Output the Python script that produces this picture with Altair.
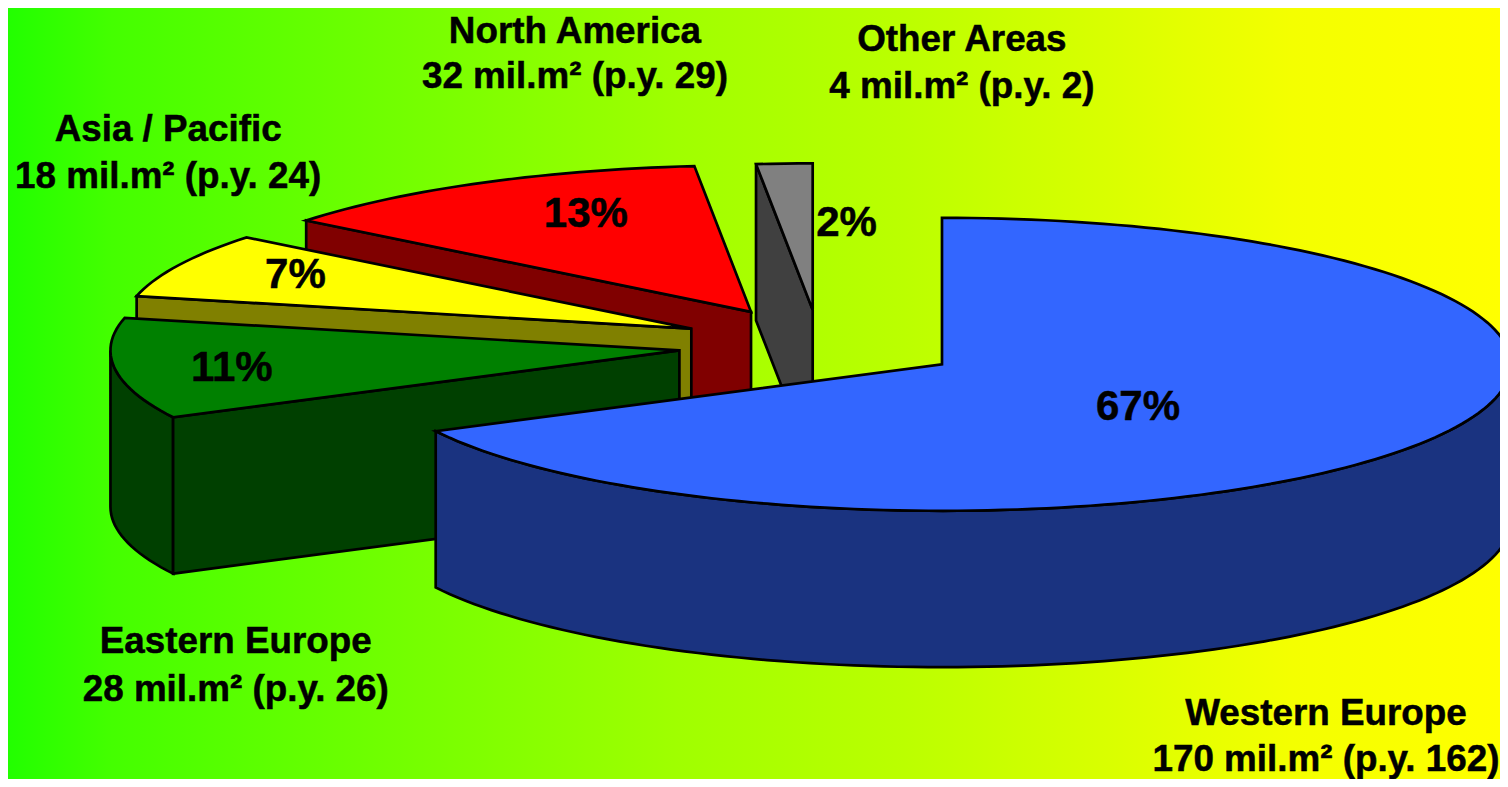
import math
import altair as alt
import pandas as pd

# ---- chart values ----
regions = ["Western Europe", "Eastern Europe", "Asia / Pacific", "North America", "Other Areas"]
areas = [170, 28, 18, 32, 4]
prior = [162, 26, 24, 29, 2]
percent_labels = ["67%", "11%", "7%", "13%", "2%"]

# ---- styling ----
top_colors = ["#3366FF", "#008000", "#FFFF00", "#FF0000", "#808080"]
side_colors = ["#1A3380", "#004000", "#808000", "#800000", "#404040"]
apex_x = [947, 683, 695, 755, 817]
apex_y = [368, 354, 332, 315, 313]
RX, RY, DEPTH = 572, 148, 158
label_xy = [(1333, 732), (237, 660), (169, 142), (578, 43), (967, 51)]
label_dy = [47, 48, 48, 46, 48]
pct_xy = [(1144, 424), (233, 385), (297, 291), (589, 229), (851, 238)]
LABEL_SIZE = 36.8
PCT_SIZE = 42
FONT = "Liberation Sans"

W, H = 1492, 771
x_scale = alt.Scale(domain=[8, 1508], nice=False, zero=False)
y_scale = alt.Scale(domain=[787, 8], nice=False, zero=False)

total = sum(areas)
starts, a = [], 0.0
for v in areas:
    starts.append(a)
    a += v / total * 360


def rim(i, a0, a1, drop=0):
    """Points along the slice's elliptical edge, angles clockwise from 12 o'clock."""
    n = max(2, int(abs(a1 - a0) / 1.5) + 1)
    pts = []
    for k in range(n + 1):
        t = math.radians(a0 + (a1 - a0) * k / n)
        pts.append((apex_x[i] + RX * math.sin(t), apex_y[i] - RY * math.cos(t) + drop))
    return pts


def poly(points, color):
    df = pd.DataFrame(points, columns=["x", "y"])
    df["o"] = range(len(df))
    return (
        alt.Chart(df)
        .mark_line(
            interpolate="linear-closed", filled=True, fill=color, stroke="black",
            strokeWidth=2.7, strokeJoin="miter", clip=True,
        )
        .encode(
            x=alt.X("x:Q", scale=x_scale, axis=None),
            y=alt.Y("y:Q", scale=y_scale, axis=None),
            order="o:Q",
        )
    )


layers = []
gradient = alt.LinearGradient(
    gradient="linear", x1=0, x2=1, y1=0, y2=0,
    stops=[
        alt.GradientStop(offset=0, color="#22FF00"),
        alt.GradientStop(offset=0.07, color="#44FF00"),
        alt.GradientStop(offset=0.45, color="#A0FF00"),
        alt.GradientStop(offset=0.6, color="#BBFF00"),
        alt.GradientStop(offset=0.86, color="#F4FF00"),
        alt.GradientStop(offset=1, color="#FFFF00"),
    ],
)
layers.append(
    alt.Chart(pd.DataFrame({"a": [0]}))
    .mark_rect(fill=gradient)
    .encode(x=alt.value(0), x2=alt.value(W), y=alt.value(0), y2=alt.value(H))
)

# back to front: grey, red, yellow, green, blue
for i in [4, 3, 2, 1, 0]:
    a0 = starts[i]
    a1 = a0 + areas[i] / total * 360
    apex = (apex_x[i], apex_y[i])
    low_apex = (apex_x[i], apex_y[i] + DEPTH)
    # outer curved wall, the part that faces the viewer
    lo, hi = max(a0, 90), min(a1, 270)
    if hi > lo:
        upper = rim(i, lo, hi)
        lower = rim(i, lo, hi, DEPTH)
        layers.append(poly(upper + lower[::-1], side_colors[i]))
    # straight cut wall along the slice's start radius
    if i != 0:
        p = rim(i, a0, a0)[0]
        layers.append(poly([apex, p, (p[0], p[1] + DEPTH), low_apex], side_colors[i]))
    # top face
    layers.append(poly([apex] + rim(i, a0, a1), top_colors[i]))

rows = []
for i, name in enumerate(regions):
    x, y = label_xy[i]
    rows.append({"x": x, "y": y, "t": name})
    rows.append({"x": x, "y": y + label_dy[i], "t": f"{areas[i]} mil.m² (p.y. {prior[i]})"})
layers.append(
    alt.Chart(pd.DataFrame(rows))
    .mark_text(font=FONT, fontWeight="bold", fontSize=LABEL_SIZE, color="black",
               stroke="black", strokeWidth=0.5, align="center", baseline="alphabetic")
    .encode(x=alt.X("x:Q", scale=x_scale, axis=None), y=alt.Y("y:Q", scale=y_scale, axis=None), text="t:N")
)
pct = pd.DataFrame({"x": [p[0] for p in pct_xy], "y": [p[1] for p in pct_xy], "t": percent_labels})
layers.append(
    alt.Chart(pct)
    .mark_text(font=FONT, fontWeight="bold", fontSize=PCT_SIZE, color="black",
               stroke="black", strokeWidth=0.5, align="center", baseline="alphabetic")
    .encode(x=alt.X("x:Q", scale=x_scale, axis=None), y=alt.Y("y:Q", scale=y_scale, axis=None), text="t:N")
)

chart = (
    alt.layer(*layers)
    .properties(width=W, height=H, padding=0, autosize=alt.AutoSizeParams(type="none"))
    .configure_view(stroke=None)
)
chart.save("out.html", embed_options={"renderer": "svg", "actions": False})
